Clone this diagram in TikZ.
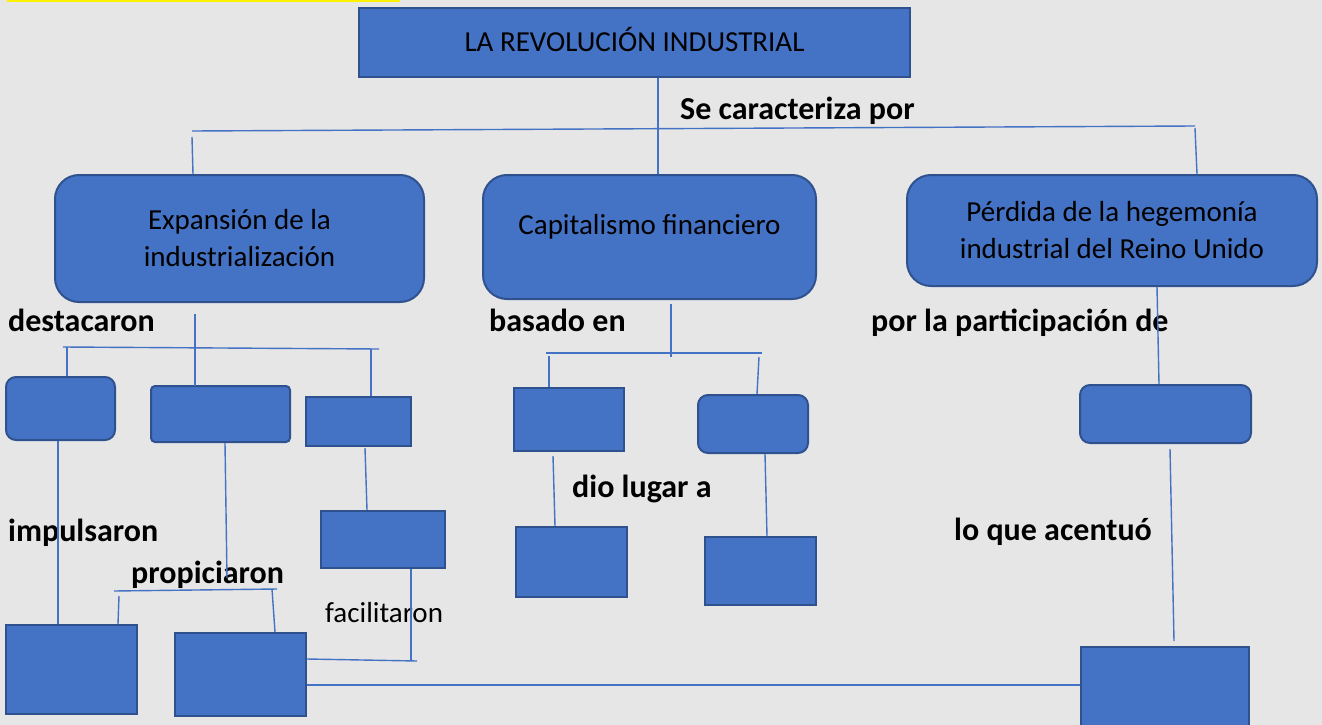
\documentclass[tikz,border=0pt]{standalone}
\usepackage{fontspec}
\setmainfont{Carlito}
\definecolor{boxblue}{HTML}{4472C4}
\definecolor{boxedge}{HTML}{2F528F}
\definecolor{paper}{HTML}{E6E6E6}
\tikzset{
  box/.style={draw=boxedge, line width=2pt, fill=boxblue, inner sep=0pt, align=center},
  link/.style={draw=boxblue, line width=1.4pt},
  lbl/.style={anchor=base west, inner sep=0pt, font=\fontsize{32}{38}\selectfont\bfseries},
  txt/.style={font=\fontsize{29}{37}\selectfont, align=center}
}
\begin{document}
\begin{tikzpicture}[x=1pt, y=-1pt]
			\fill[paper] (0,0) rectangle (1322,725);
			\useasboundingbox (0,0) rectangle (1322,725);
			\clip (0,0) rectangle (1322,725);
			\fill[yellow] (7,0) rectangle (400,2.5);

			% top level
			\node (title)[box, minimum width=551, minimum height=69] at (634.5,42.5) {};
			\node (titletxt)[txt] at (634.5,39) {LA REVOLUCIÓN INDUSTRIAL};
			\node (exp)[box, rounded corners=24pt, minimum width=369, minimum height=127, txt] at (239.5,238.5) {Expansión de la\\industrialización};
			\node (cap)[box, rounded corners=24pt, minimum width=333, minimum height=124] at (649.5,237) {};
			\node (captxt)[txt] at (649.5,227) {Capitalismo financiero};
			\node (per)[box, rounded corners=24pt, minimum width=410, minimum height=111, txt] at (1112,230.5) {Pérdida de la hegemonía\\industrial del Reino Unido};

			% empty boxes
			\node (l1)[box, rounded corners=10pt, minimum width=109, minimum height=63] at (60.5,408.5) {};
			\node (l2)[box, rounded corners=4pt, minimum width=139, minimum height=56] at (220.5,414) {};
			\node (l3)[box, minimum width=105, minimum height=49] at (358.5,421.5) {};
			\node (l4)[box, minimum width=124, minimum height=57] at (383,539.5) {};
			\node (b1)[box, minimum width=131, minimum height=89] at (71.5,669.5) {};
			\node (b2)[box, minimum width=131, minimum height=83] at (240.5,674.5) {};
			\node (m1)[box, minimum width=110, minimum height=63] at (569,419.5) {};
			\node (m2)[box, rounded corners=10pt, minimum width=110, minimum height=58] at (753,424) {};
			\node (m3)[box, minimum width=111, minimum height=70] at (571.5,562) {};
			\node (m4)[box, minimum width=111, minimum height=68] at (760.5,571) {};
			\node (r1)[box, rounded corners=10pt, minimum width=171, minimum height=58] at (1165.5,414) {};
			\node (r2)[box, minimum width=168, minimum height=100] at (1165,697) {};

			% linking words
			\node (sc)[lbl] at (680,119) {Se caracteriza por};
			\node (des)[lbl] at (8,331) {destacaron};
			\node (bas)[lbl] at (489,331) {basado en};
			\node (par)[lbl] at (871,331) {por la participación de};
			\node (imp)[lbl] at (8,541) {impulsaron};
			\node (pro)[lbl] at (131,583) {propiciaron};
			\node (fac)[anchor=base west, inner sep=0pt, txt] at (325,622) {facilitaron};
			\node (dio)[lbl] at (572,497) {dio lugar a};
			\node (acc)[lbl] at (954,540) {lo que acentuó};

			% junction points
			\coordinate (barL) at (192,131);
			\coordinate (barR) at (1195,126);
			\coordinate (dL) at (63,347);
			\coordinate (dR) at (379,349);
			\coordinate (d1) at (67,347);
			\coordinate (d3) at (371,349);
			\coordinate (dEnd) at (195,386);
			\coordinate (pEnd) at (227,578);
			\coordinate (pL) at (114,591);
			\coordinate (pR) at (277,589);
			\coordinate (p1) at (119,596);
			\coordinate (p2) at (272,589);
			\coordinate (fV) at (411,660);
			\coordinate (fE) at (417,661);
			\coordinate (bL) at (546,353);
			\coordinate (bR) at (762,353);
			\coordinate (bM) at (671,357);
			\coordinate (b1c) at (549,356);
			\coordinate (b2c) at (759,357);
			\coordinate (aEnd) at (1174,641);

			% connectors
			\draw[link] ([xshift=23.5pt]title.south) -- ([xshift=8.5pt]cap.north);
			\draw[link] (barL) -- (barR);
			\draw[link] ([yshift=-6pt]barL) -- ([xshift=-46.5pt]exp.north);
			\draw[link] ([yshift=-2pt]barR) -- ([xshift=85pt]per.north);

			\draw[link] ([xshift=-44.5pt, yshift=-11pt]exp.south) -- (dEnd);
			\draw[link] (dL) -- (dR);
			\draw[link] (d1) -- ([xshift=6.5pt]l1.north);
			\draw[link] (d3) -- ([xshift=12.5pt]l3.north);
			\draw[link] ([xshift=-2.5pt]l1.south) -- ([xshift=-13.5pt]b1.north);
			\draw[link] ([xshift=4.5pt]l2.south) -- (pEnd);
			\draw[link] (pL) -- (pR);
			\draw[link] (p1) -- ([xshift=46.5pt]b1.north);
			\draw[link] (p2) -- ([xshift=34.5pt]b2.north);
			\draw[link] ([xshift=6.5pt, yshift=-1pt]l3.south) -- ([xshift=-16pt]l4.north);
			\draw[link] ([xshift=28pt]l4.south) -- (fV);
			\draw[link] ([yshift=15.5pt]b2.east) -- (fE);
			\draw[link] ([yshift=-10.5pt]b2.east) -- ([yshift=-10.5pt]b2.east -| r2.west);

			\draw[link] ([xshift=21.5pt, yshift=-4pt]cap.south) -- (bM);
			\draw[link] (bL) -- (bR);
			\draw[link] (b1c) -- ([xshift=-20pt]m1.north);
			\draw[link] (b2c) -- ([xshift=4pt]m2.north);
			\draw[link] ([xshift=-16pt, yshift=-4pt]m1.south) -- ([xshift=-16.5pt]m3.north);
			\draw[link] ([xshift=12pt]m2.south) -- ([xshift=6.5pt]m4.north);

			\draw[link] ([xshift=45pt]per.south) -- ([xshift=-6.5pt]r1.north);
			\draw[link] ([xshift=4.5pt, yshift=-5pt]r1.south) -- (aEnd);
\end{tikzpicture}
\end{document}
